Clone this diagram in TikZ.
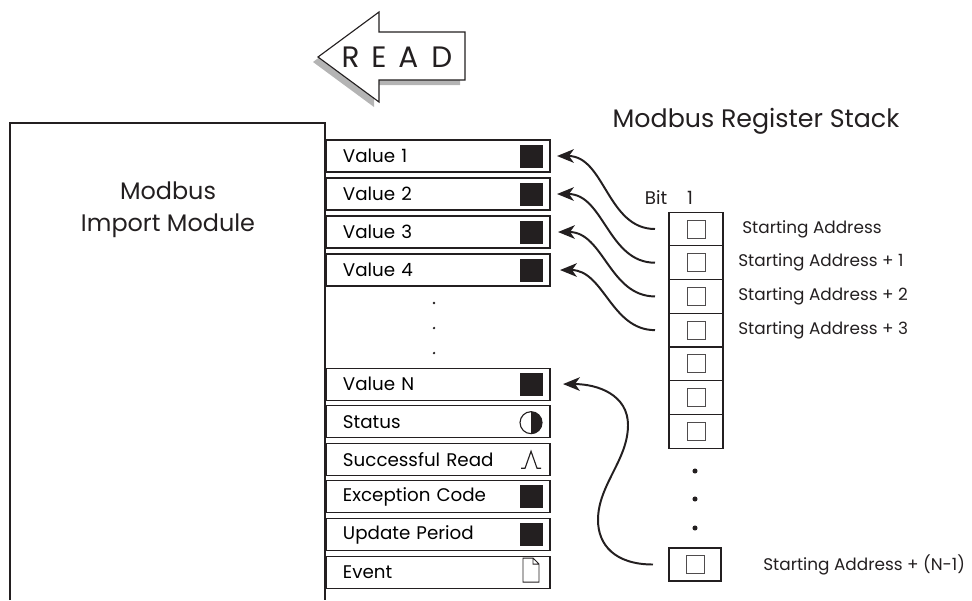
\documentclass[tikz,border=0pt]{standalone}
\usepackage{fontspec}
\setmainfont{Poppins}
\usetikzlibrary{positioning, arrows.meta, calc}
\definecolor{Ink}{HTML}{231F20}
\definecolor{Shade}{HTML}{B4B4B4}

\begin{document}
\begin{tikzpicture}[x=0.025cm, y=-0.025cm,
    valrow/.style={draw=Ink, line width=0.8pt, minimum width=5.6cm, minimum height=0.8cm, text width=4.75cm, inner xsep=0.425cm, align=left, outer sep=0pt, font=\fontsize{13}{15}\selectfont},
    regcell/.style={draw=Ink, line width=0.8pt, minimum width=1.35cm, minimum height=0.8425cm, outer sep=0pt},
    bitbox/.style={draw=Ink!80, line width=0.6pt, minimum size=0.45cm, inner sep=0pt},
    fillsq/.style={fill=Ink, minimum size=0.575cm, inner sep=0pt},
    regtxt/.style={font=\fontsize{12}{14}\selectfont, inner sep=0pt},
    link/.style={-{Stealth[length=0.42cm, width=0.34cm, inset=0.12cm]}, line width=1.4pt, color=Ink}
]
\useasboundingbox (0,0) rectangle (972,600);

% READ arrow with its shadow
\fill[Shade] (313,62) -- (374,17) -- (374,37) -- (460,37) -- (460,85) -- (374,85) -- (374,107) -- cycle;
\draw[Ink, fill=white, line width=0.8pt] (318,57) -- (379,12) -- (379,32) -- (465,32) -- (465,80) -- (379,80) -- (379,102) -- cycle;
\node[font=\fontsize{21}{25}\selectfont, text=Ink] (read) at (397,57) {R\hspace{0.4em}E\hspace{0.4em}A\hspace{0.45em}D};

% Import module
\draw[Ink, line width=0.8pt] (10,600) -- (10,123) -- (325,123) -- (325,600);
\node[font=\fontsize{17}{23}\selectfont, align=center, text=Ink] (mod) at (168,210) {Modbus\\Import Module};

% Value rows
\node[valrow] (v1) at (438,156) {Value 1};
\node[valrow, below=0.15cm of v1] (v2) {Value 2};
\node[valrow, below=0.15cm of v2] (v3) {Value 3};
\node[valrow, below=0.15cm of v3] (v4) {Value 4};
\node[valrow, below=2.05cm of v4] (vn) {Value N};
\node[valrow, below=0.14cm of vn] (st) {Status};
\node[valrow, below=0.14cm of st] (sr) {Successful Read};
\node[valrow, below=0.14cm of sr] (ec) {Exception Code};
\node[valrow, below=0.14cm of ec] (up) {Update Period};
\node[valrow, below=0.14cm of up] (ev) {Event};

\foreach \r in {v1,v2,v3,v4,vn,ec,up}
  \node[fillsq] (\r-sq) at ([xshift=-0.46cm]\r.east) {};
\foreach \y in {303,328,353}
  \fill[Ink] (434,\y) circle (0.9pt);

% Row icons
\draw[Ink, line width=0.8pt] ([shift={(-19,1)}]st.east) circle (0.275cm);
\fill[Ink] ([shift={(-19,-10)}]st.east) arc (90:-90:0.275cm) -- cycle;
\draw[Ink, line width=0.8pt] ([shift={(-29,9)}]sr.east) -- ++(4,0) -- ++(6,-17) -- ++(6,17) -- ++(4,0);
\draw[Ink, line width=0.6pt] ([shift={(-27,-14)}]ev.east) -- ++(10,0) -- ++(6,6) -- ++(0,18) -- ++(-16,0) -- cycle
  ([shift={(-17,-14)}]ev.east) -- ++(0,6) -- ++(6,0);

% Register stack
\node[font=\fontsize{18}{22}\selectfont, text=Ink] (title) at (756,121) {Modbus Register Stack};
\node[regcell] (r1) at (696,229) {};
\node[regcell, below=0cm of r1] (r2) {};
\node[regcell, below=0cm of r2] (r3) {};
\node[regcell, below=0cm of r3] (r4) {};
\node[regcell, below=0cm of r4] (r5) {};
\node[regcell, below=0cm of r5] (r6) {};
\node[regcell, below=0cm of r6] (r7) {};
\node[regcell, minimum width=1.3cm, minimum height=0.825cm] (rn) at (695,564.5) {};
\foreach \c in {r1,r2,r3,r4,r5,r6,r7,rn}
  \node[bitbox] (\c-b) at (\c) {};
\foreach \y in {471,499,528}
  \fill[Ink] (695,\y) circle (1.8pt);

\node[regtxt, font=\fontsize{13}{15}\selectfont, text=Ink] (bit) at (656,198) {Bit};
\node[regtxt, font=\fontsize{13}{15}\selectfont, text=Ink] (bitno) at (690,198) {1};

\node[regtxt, text=Ink, right=0.475cm of r1] (a0) {Starting Address};
\node[regtxt, text=Ink, right=0.375cm of r2] (a1) {Starting Address + 1};
\node[regtxt, text=Ink, right=0.375cm of r3] (a2) {Starting Address + 2};
\node[regtxt, text=Ink, right=0.375cm of r4] (a3) {Starting Address + 3};
\node[regtxt, text=Ink, right=1.05cm of rn] (an) {Starting Address + (N-1)};

% Read links
\draw[link] ([xshift=-0.35cm]r1.west) to[out=180, in=0] ([xshift=0.175cm]v1.east);
\draw[link] ([xshift=-0.35cm]r2.west) to[out=180, in=0] ([xshift=0.175cm]v2.east);
\draw[link] ([xshift=-0.35cm]r3.west) to[out=180, in=0] ([xshift=0.2cm]v3.east);
\draw[link] ([xshift=-0.35cm]r4.west) to[out=180, in=0] ([xshift=0.25cm]v4.east);
\draw[link] ([xshift=-0.4cm]rn.west) .. controls +(-38,0) and +(0,25) .. (598,520)
  .. controls +(0,-35) and +(0,35) .. (628,425)
  .. controls +(0,-30) and +(35,0) .. ([xshift=0.325cm]vn.east);

\end{tikzpicture}
\end{document}
